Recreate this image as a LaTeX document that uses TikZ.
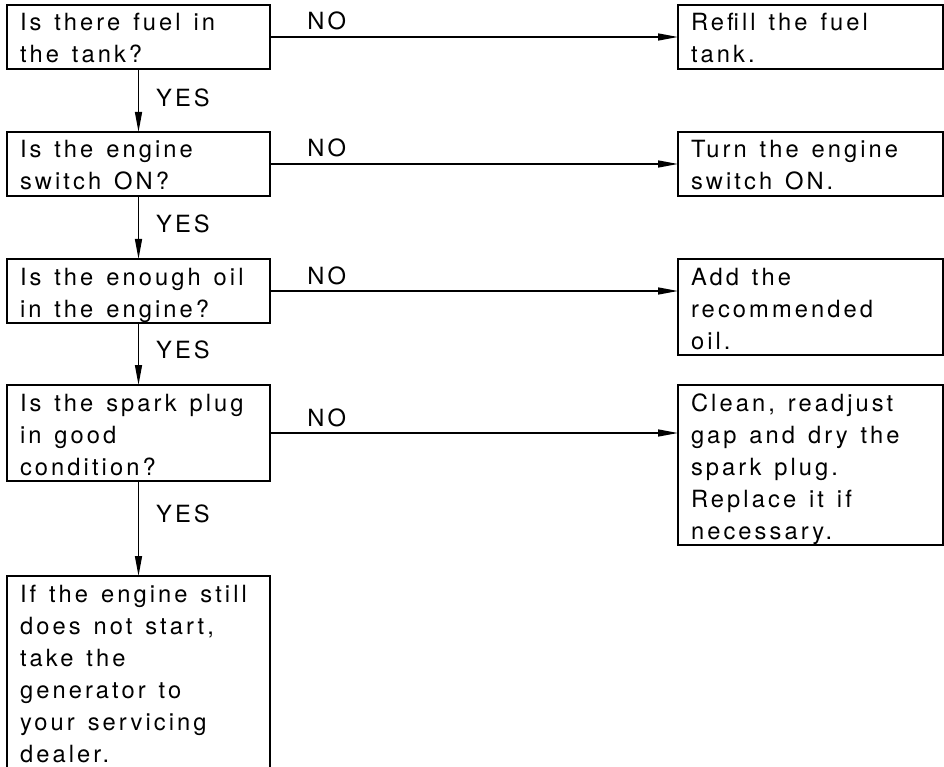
\documentclass[tikz,border=0pt]{standalone}
\usepackage{fontspec}
\setmainfont{TeX Gyre Heros}[LetterSpace=13]
\usetikzlibrary{arrows.meta, positioning}

\newcommand{\ligne}{\rule[-6pt]{0pt}{32pt}}
\newcommand{\debut}{\spaceskip=12.9pt\relax\ligne}
\newcommand{\police}{\fontsize{23.7}{32}\selectfont}

\begin{document}
\begin{tikzpicture}[x=1pt, y=-1pt,
  texte/.style={font=\police},
  boite/.style={texte, draw, line width=1.4pt, anchor=north west, align=left,
    inner xsep=13pt, inner ysep=0pt, outer sep=0pt},
  gauche/.style={boite, text width=237pt},
  droite/.style={boite, text width=239pt},
  fleche/.style={line width=1.4pt, -{Triangle[length=20pt, width=7pt]}},
  oui/.style={texte, inner sep=0pt, right=17pt},
  non/.style={texte, inner sep=0pt, pos=0.09, anchor=base west, yshift=7pt}]
  \useasboundingbox (0,0) rectangle (944,767);

  % Questions
  \node[gauche] (carburant) at (7,5) {\debut Is there fuel in\\the tank?\ligne};
  \node[gauche, below=63pt of carburant] (contact) {\debut Is the engine\\switch ON?\ligne};
  \node[gauche, below=63pt of contact] (huile) {\debut Is the enough oil\\in the engine?\ligne};
  \node[gauche, below=62pt of huile] (bougie) {\debut Is the spark plug\\in good\\condition?\ligne};
  \node[gauche, below=95pt of bougie] (atelier) {\debut If the engine still\\does not start,\\take the\\generator to\\your servicing\\dealer.\ligne};

  % Actions
  \node[droite, right=408pt of carburant.north east, anchor=north west] (remplir) {\debut Refill the fuel\\tank.\ligne};
  \node[droite, right=408pt of contact.north east, anchor=north west] (allumer) {\debut Turn the engine\\switch ON.\ligne};
  \node[droite, right=408pt of huile.north east, anchor=north west] (ajouter) {\debut Add the\\recommended\\oil.\ligne};
  \node[droite, right=408pt of bougie.north east, anchor=north west] (nettoyer) {\debut Clean, readjust\\gap and dry the\\spark plug.\\Replace it if\\necessary.\ligne};

  % YES
  \draw[fleche] (carburant) -- node[oui, pos=0.46] {YES} (contact);
  \draw[fleche] (contact) -- node[oui, pos=0.44] {YES} (huile);
  \draw[fleche] (huile) -- node[oui, pos=0.43] {YES} (bougie);
  \draw[fleche] (bougie) -- node[oui, pos=0.35] {YES} (atelier);

  % NO
  \draw[fleche] (carburant.east) -- node[non] {NO} (carburant.east -| remplir.west);
  \draw[fleche] (contact.east) -- node[non] {NO} (contact.east -| allumer.west);
  \draw[fleche] (huile.east) -- node[non] {NO} (huile.east -| ajouter.west);
  \draw[fleche] (bougie.east) -- node[non] {NO} (bougie.east -| nettoyer.west);
\end{tikzpicture}
\end{document}
